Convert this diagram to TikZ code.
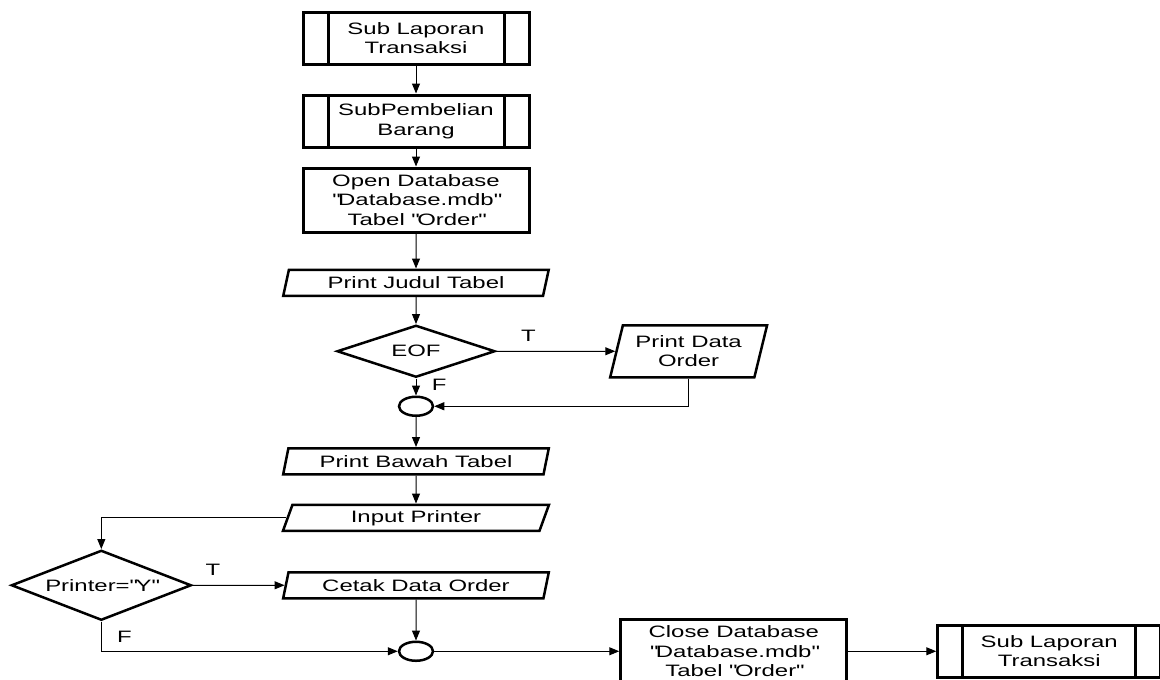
\documentclass[tikz,border=0pt]{standalone}
\usepackage{fontspec}
\setmainfont{Liberation Sans}[FakeStretch=1.45]
\usepackage{tikz}
\usetikzlibrary{positioning}
\usetikzlibrary{arrows.meta}
\usetikzlibrary{shapes,calc}
\newcommand{\qt}{\textquotedbl}
\tikzset{sub node/.style={rectangle,draw,line width=3pt,minimum width=226pt,minimum height=52pt,align=center,inner sep=0pt,
    path picture={\draw[-,line width=3pt] ([xshift=25pt]path picture bounding box.north west) -- ([xshift=25pt]path picture bounding box.south west)
      ([xshift=-25pt]path picture bounding box.north east) -- ([xshift=-25pt]path picture bounding box.south east);}},
  proc node/.style={rectangle,draw,line width=3pt,minimum width=226pt,minimum height=64pt,align=center,inner sep=0pt},
  io node/.style={trapezium,trapezium left angle=72,trapezium right angle=108,trapezium stretches=true,draw,line width=2.5pt,
    minimum width=266pt,minimum height=26pt,inner sep=0pt,align=center},
  dec node/.style={diamond,draw,line width=2.5pt,aspect=3,inner sep=0pt},
  con node/.style={ellipse,draw,line width=2.5pt,minimum width=34pt,minimum height=19pt,inner sep=0pt},}

\begin{document}
\begin{tikzpicture}[x=1pt, y=1pt, ->, >={Triangle[length=10pt,width=8pt]}, auto, node distance=28pt, font=\fontsize{16.5}{19.5}\selectfont]
    \useasboundingbox (0,0) rectangle (1160,-680);
    \node[sub node] (sub1) at (416,-38) {Sub Laporan\\Transaksi};
    \node[sub node] (pemb) [below = 28pt of sub1] {SubPembelian\\Barang};
    \node[proc node] (open) [below = 18pt of pemb] {Open Database\\\qt Database.mdb\qt\\Tabel \qt Order\qt};
    \node[io node] (judul) [below = 35pt of open] {Print Judul Tabel};
    \node[dec node, minimum width=158pt, minimum height=52pt] (eof) [below = 27pt of judul] {EOF};
    \node[io node, minimum width=157pt, minimum height=52pt] (pdata) [right = 119pt of eof] {Print Data\\Order};
    \node[con node] (con1) [below = 17pt of eof] {};
    \node[io node] (bawah) [below = 30pt of con1] {Print Bawah Tabel};
    \node[io node] (input) [below = 28pt of bawah] {Input Printer};
    \node[io node] (cetak) [below = 39pt of input] {Cetak Data Order};
    \node[dec node, minimum width=180pt, minimum height=70pt] (ydec) [left = 92pt of cetak] {Printer=\qt Y\qt};
    \node[con node] (con2) [below = 41pt of cetak] {};
    \node[proc node] (close) [right = 185pt of con2] {Close Database\\\qt Database.mdb\qt\\Tabel \qt Order\qt};
    \node[sub node, minimum width=223pt] (sub2) [right = 88pt of close] {Sub Laporan\\Transaksi};

    \path[draw,line width=1pt]
    (sub1) edge (pemb)
    (pemb) edge (open)
    (open) edge (judul)
    (judul) edge (eof)
    (eof) edge node[pos=0.27, yshift=6pt] {T} (pdata)
    (eof) edge node[pos=0.4, right=12pt, anchor=west] {F} (con1)
    (con1) edge (bawah)
    (bawah) edge (input)
    (ydec) edge node[pos=0.22, yshift=6pt] {T} (cetak)
    (cetak) edge (con2)
    (con2) edge (close)
    (close) edge (sub2);

    \draw[line width=1pt] (pdata) |- (con1);
    \draw[line width=1pt] (input) -| (ydec);
    \draw[line width=1pt] (ydec) |- node[pos=0.26, right=12pt, anchor=west] {F} (con2);
\end{tikzpicture}
\end{document}
